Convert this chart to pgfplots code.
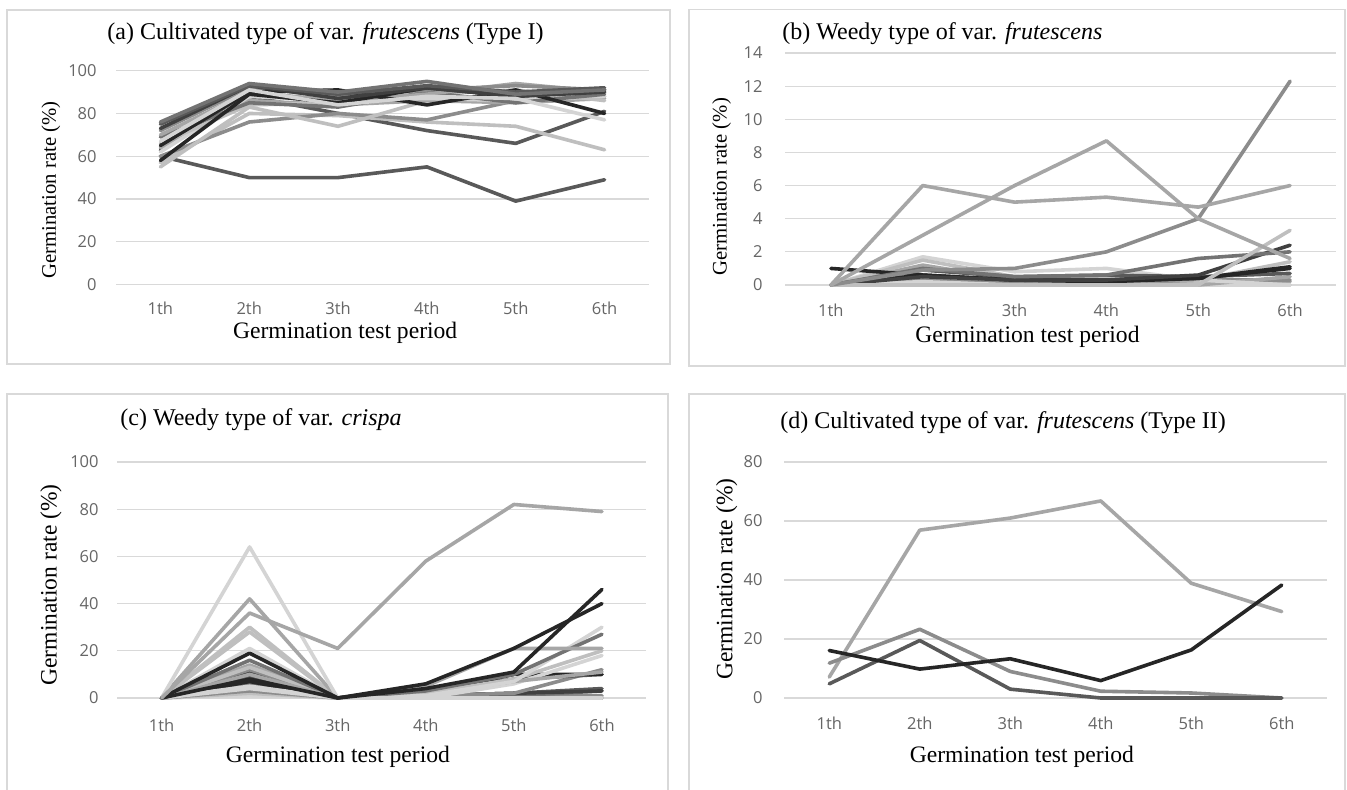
\documentclass[border=0pt]{standalone}
\usepackage{fontspec}
\setmainfont{Liberation Serif}
\newfontfamily\tickfont{Open Sans}
\usepackage{pgfplots}
\pgfplotsset{compat=1.18}

\definecolor{k1}{HTML}{262626}
\definecolor{k2}{HTML}{404040}
\definecolor{k3}{HTML}{595959}
\definecolor{k4}{HTML}{737373}
\definecolor{k5}{HTML}{8C8C8C}
\definecolor{k6}{HTML}{A6A6A6}
\definecolor{k7}{HTML}{BFBFBF}
\definecolor{k8}{HTML}{D4D4D4}
\definecolor{gridc}{HTML}{D9D9D9}
\definecolor{tickc}{HTML}{666666}

\pgfplotsset{
  panel/.style={
    scale only axis, anchor=south west,
    xmin=0.5, xmax=6.5, ymin=0,
    xtick={1,...,6}, xticklabels={1th,2th,3th,4th,5th,6th},
    axis line style={draw=none}, major tick length=0pt,
    ymajorgrids, grid style={color=gridc, line width=0.6pt},
    tick label style={font=\tickfont\fontsize{8.25}{10}\selectfont, text=tickc, inner sep=0pt},
    /pgf/number format/assume math mode=true,
    xticklabel style={anchor=center},
    yticklabel style={anchor=east},
    xlabel style={font=\fontsize{11.8}{14}\selectfont, anchor=center},
    ylabel style={anchor=center},
    xlabel={Germination test period},
    ylabel={Germination rate (\%)},
    clip=false,
    every axis plot/.append style={line width=1.8pt, line join=round, line cap=round, no marks},
  }
}

\begin{document}
\begin{tikzpicture}
\useasboundingbox (0,0) rectangle (673.5pt,-395pt);
\fill[white] (0,0) rectangle (673.5pt,-395pt);
\draw[gridc, line width=0.6pt] (3.5pt,-5pt) rectangle (335pt,-182pt);
\draw[gridc, line width=0.6pt] (344.5pt,-4.75pt) rectangle (672.5pt,-183pt);
\draw[gridc, line width=0.6pt] (3.5pt,-396pt) -- (3.5pt,-197pt) -- (334pt,-197pt) -- (334pt,-396pt);
\draw[gridc, line width=0.6pt] (344.5pt,-396pt) -- (344.5pt,-197pt) -- (672.5pt,-197pt) -- (672.5pt,-396pt);

\node[anchor=west, inner sep=0pt, font=\fontsize{12}{14}\selectfont] at (53.5pt,-17pt) {(a) Cultivated type of var. \textit{frutescens} (Type I)};
\node[anchor=west, inner sep=0pt, font=\fontsize{12}{14}\selectfont] at (391pt,-17pt) {(b) Weedy type of var. \textit{frutescens}};
\node[anchor=west, inner sep=0pt, font=\fontsize{12}{14}\selectfont] at (60pt,-210pt) {(c) Weedy type of var. \textit{crispa}};
\node[anchor=west, inner sep=0pt, font=\fontsize{12}{14}\selectfont] at (390pt,-211.5pt) {(d) Cultivated type of var. \textit{frutescens} (Type II)};

% (a)
\begin{axis}[panel, at={(58pt,-142.25pt)}, width=266.5pt, height=106.9pt,
  ymax=100, ytick={0,20,...,100},
  xticklabel style={yshift=-11.75pt}, yticklabel style={xshift=-9.5pt},
  xlabel style={at={(axis description cs:0.43,-0.227)}},
  ylabel style={at={(axis description cs:-0.122,0.442)}, font=\fontsize{10.35}{12}\selectfont}]
\addplot[k3] coordinates {(1,60)(2,50)(3,50)(4,55)(5,39)(6,49)};
\addplot[k3] coordinates {(1,63)(2,88)(3,80)(4,72)(5,66)(6,81)};
\addplot[k7] coordinates {(1,57)(2,80)(3,79)(4,76)(5,74)(6,63)};
\addplot[k5] coordinates {(1,60)(2,76)(3,80)(4,77)(5,86)(6,88)};
\addplot[k7] coordinates {(1,55)(2,83)(3,74)(4,86)(5,88)(6,90)};
\addplot[k6] coordinates {(1,64)(2,86)(3,84)(4,86)(5,85)(6,87)};
\addplot[k8] coordinates {(1,62)(2,88)(3,86)(4,87)(5,86)(6,88)};
\addplot[k7] coordinates {(1,66)(2,84)(3,85)(4,89)(5,91)(6,86)};
\addplot[k4] coordinates {(1,69)(2,85)(3,83)(4,90)(5,85)(6,89)};
\addplot[k6] coordinates {(1,70)(2,90)(3,86)(4,89)(5,94)(6,90)};
\addplot[k5] coordinates {(1,72)(2,92)(3,88)(4,91)(5,93)(6,91)};
\addplot[k1] coordinates {(1,65)(2,90)(3,91)(4,84)(5,91)(6,80)};
\addplot[k1] coordinates {(1,58)(2,89)(3,85)(4,92)(5,88)(6,91)};
\addplot[k2] coordinates {(1,73)(2,93)(3,87)(4,92)(5,88)(6,90)};
\addplot[k3] coordinates {(1,75)(2,93)(3,89)(4,93)(5,90)(6,92)};
\addplot[k4] coordinates {(1,76)(2,94)(3,90)(4,95)(5,89)(6,91)};
\addplot[k8] coordinates {(1,67)(2,91)(3,84)(4,88)(5,87)(6,77)};
\end{axis}

% (b)
\begin{axis}[panel, at={(392.5pt,-142.5pt)}, width=275.5pt, height=116pt,
  ymax=14, ytick={0,2,...,14},
  xticklabel style={yshift=-12.5pt}, yticklabel style={xshift=-11pt},
  xlabel style={at={(axis description cs:0.44,-0.224)}},
  ylabel style={at={(axis description cs:-0.115,0.424)}, font=\fontsize{10.35}{12}\selectfont}]
\addplot[k6] coordinates {(1,0)(2,0)(3,0)(4,0)(5,0)(6,0.2)};
\addplot[k7] coordinates {(1,0)(2,0.1)(3,0)(4,0.2)(5,0.1)(6,0)};
\addplot[k5] coordinates {(1,0)(2,0.3)(3,0.1)(4,0.1)(5,0.3)(6,0.3)};
\addplot[k8] coordinates {(1,0)(2,0.2)(3,0)(4,0)(5,0)(6,0)};
\addplot[k6] coordinates {(1,0)(2,1.2)(3,0.3)(4,0.1)(5,0)(6,0.5)};
\addplot[k8] coordinates {(1,0)(2,1.7)(3,0.8)(4,1.0)(5,0.3)(6,0)};
\addplot[k7] coordinates {(1,0)(2,1.5)(3,0.5)(4,0.4)(5,0.3)(6,1.4)};
\addplot[k3] coordinates {(1,0)(2,0.9)(3,0.5)(4,0.6)(5,0.5)(6,0.7)};
\addplot[k1] coordinates {(1,1.0)(2,0.6)(3,0.3)(4,0.2)(5,0.4)(6,1.0)};
\addplot[k1] coordinates {(1,0)(2,0.6)(3,0.3)(4,0.3)(5,0.4)(6,1.1)};
\addplot[k2] coordinates {(1,0)(2,0.5)(3,0.3)(4,0.3)(5,0.6)(6,2.4)};
\addplot[k4] coordinates {(1,0)(2,1.0)(3,0.5)(4,0.6)(5,1.6)(6,2.0)};
\addplot[k7] coordinates {(1,0)(2,0)(3,0)(4,0)(5,0)(6,3.3)};
\addplot[k5] coordinates {(1,0)(2,0.9)(3,1.0)(4,2.0)(5,4.0)(6,12.3)};
\addplot[k6] coordinates {(1,0)(2,3.0)(3,6.0)(4,8.7)(5,4.0)(6,1.6)};
\addplot[k6] coordinates {(1,0)(2,6.0)(3,5.0)(4,5.3)(5,4.7)(6,6.0)};
\end{axis}

% (c)
\begin{axis}[panel, at={(58.75pt,-349pt)}, width=264.25pt, height=118pt,
  ymax=100, ytick={0,20,...,100},
  xticklabel style={yshift=-13.5pt}, yticklabel style={xshift=-9.25pt},
  xlabel style={at={(axis description cs:0.417,-0.25)}},
  ylabel style={at={(axis description cs:-0.126,0.479)}, font=\fontsize{11.75}{14}\selectfont}]
\addplot[k8] coordinates {(1,0)(2,1)(3,0)(4,0)(5,0)(6,0)};
\addplot[k7] coordinates {(1,0)(2,2)(3,0)(4,0)(5,0.5)(6,0.5)};
\addplot[k5] coordinates {(1,0)(2,3)(3,0)(4,0)(5,1)(6,1)};
\addplot[k4] coordinates {(1,0)(2,6)(3,0)(4,0.5)(5,1)(6,3)};
\addplot[k3] coordinates {(1,0)(2,9)(3,0)(4,1)(5,2)(6,4)};
\addplot[k2] coordinates {(1,0)(2,11)(3,0)(4,1)(5,2)(6,3)};
\addplot[k5] coordinates {(1,0)(2,12)(3,0)(4,1)(5,2)(6,12)};
\addplot[k3] coordinates {(1,0)(2,8.5)(3,0)(4,3)(5,8)(6,10)};
\addplot[k1] coordinates {(1,0)(2,7)(3,0)(4,2)(5,10)(6,10)};
\addplot[k8] coordinates {(1,0)(2,4)(3,0)(4,0)(5,6)(6,18)};
\addplot[k6] coordinates {(1,0)(2,14)(3,0)(4,2)(5,7)(6,11)};
\addplot[k7] coordinates {(1,0)(2,13)(3,0)(4,2)(5,8)(6,20)};
\addplot[k8] coordinates {(1,0)(2,5)(3,0)(4,1)(5,7)(6,30)};
\addplot[k4] coordinates {(1,0)(2,16)(3,0)(4,3)(5,10)(6,27)};
\addplot[k6] coordinates {(1,0)(2,10)(3,0)(4,5)(5,21)(6,21)};
\addplot[k8] coordinates {(1,0)(2,21)(3,0)(4,0)(5,0)(6,0)};
\addplot[k7] coordinates {(1,0)(2,28)(3,0)(4,0)(5,0)(6,0)};
\addplot[k7] coordinates {(1,0)(2,30)(3,0)(4,0)(5,0)(6,0)};
\addplot[k6] coordinates {(1,0)(2,42)(3,0)(4,0)(5,0)(6,0)};
\addplot[k8] coordinates {(1,0)(2,64)(3,0)(4,0)(5,0)(6,0)};
\addplot[k1] coordinates {(1,0)(2,8)(3,0)(4,6)(5,21)(6,40)};
\addplot[k1] coordinates {(1,0)(2,19)(3,0)(4,4)(5,11)(6,46)};
\addplot[k6] coordinates {(1,0)(2,36)(3,21)(4,58)(5,82)(6,79)};
\end{axis}

% (d)
\begin{axis}[panel, at={(392pt,-349pt)}, width=271.5pt, height=118pt,
  ymax=80, ytick={0,20,...,80},
  xticklabel style={yshift=-12.5pt}, yticklabel style={xshift=-10.5pt},
  xlabel style={at={(axis description cs:0.438,-0.25)}},
  ylabel style={at={(axis description cs:-0.1055,0.504)}, font=\fontsize{11.75}{14}\selectfont}]
\addplot[k6] coordinates {(1,7.1)(2,56.9)(3,61)(4,66.8)(5,38.9)(6,29.3)};
\addplot[k5] coordinates {(1,11.8)(2,23.3)(3,9)(4,2.3)(5,1.7)(6,0)};
\addplot[k3] coordinates {(1,4.8)(2,19.5)(3,3)(4,0)(5,0)(6,0)};
\addplot[k1] coordinates {(1,16.1)(2,9.8)(3,13.3)(4,5.9)(5,16.3)(6,38.3)};
\end{axis}
\end{tikzpicture}
\end{document}
